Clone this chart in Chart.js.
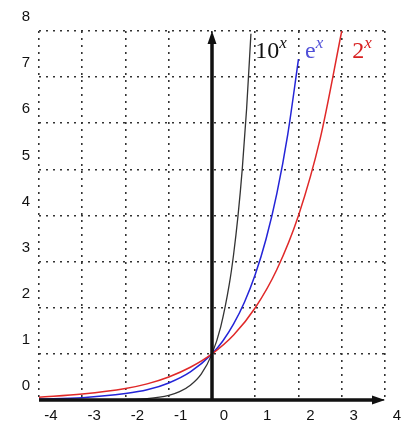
<!DOCTYPE html>
<html>
<head>
<meta charset="utf-8">
<script src="https://cdn.jsdelivr.net/npm/chart.js@4.4.0/dist/chart.umd.min.js"></script>
<style>
  html, body { margin: 0; padding: 0; background: #fff; }
  #wrap { width: 402px; height: 426px; }
</style>
</head>
<body>
<div id="wrap"><canvas id="chart"></canvas></div>
<script>
// values
const xTicks = [-4, -3, -2, -1, 0, 1, 2, 3, 4];
const yTicks = [0, 1, 2, 3, 4, 5, 6, 7, 8];

const pow10X = [-4, -3, -2, -1.5, -1, -0.75, -0.5, -0.25, 0, 0.2, 0.4, 0.5, 0.6, 0.7, 0.8, 0.9];
const pow10Y = [0.0001, 0.001, 0.01, 0.03, 0.1, 0.18, 0.32, 0.56, 1, 1.58, 2.51, 3.16, 3.98, 5.01, 6.31, 7.94];

const expX = [-4, -3, -2, -1.5, -1, -0.5, 0, 0.25, 0.5, 0.75, 1, 1.25, 1.5, 1.75, 2];
const expY = [0.02, 0.05, 0.14, 0.22, 0.37, 0.61, 1, 1.28, 1.65, 2.12, 2.72, 3.49, 4.48, 5.75, 7.39];

const pow2X = [-4, -3, -2, -1.5, -1, -0.5, 0, 0.5, 1, 1.5, 2, 2.5, 3];
const pow2Y = [0.06, 0.13, 0.25, 0.35, 0.5, 0.71, 1, 1.41, 2, 2.83, 4, 5.66, 8];

function toPoints(xs, ys) {
    return xs.map((x, i) => ({ x: x, y: ys[i] }));
}

// axes with arrows at x = 0 and y = 0, plus the curve names
const axesPlugin = {
    id: 'axesPlugin',
    afterDatasetsDraw(chart) {
        const ctx = chart.ctx;
        const sx = chart.scales.x, sy = chart.scales.y;
        const x0 = sx.getPixelForValue(0), y0 = sy.getPixelForValue(0);
        const xL = sx.getPixelForValue(-4), xR = sx.getPixelForValue(4);
        const yT = sy.getPixelForValue(8);
        ctx.save();
        ctx.strokeStyle = '#111';
        ctx.fillStyle = '#111';
        ctx.lineWidth = 3.5;
        ctx.beginPath();
        ctx.moveTo(xL, y0);
        ctx.lineTo(xR - 8, y0);
        ctx.moveTo(x0, y0);
        ctx.lineTo(x0, yT + 8);
        ctx.stroke();
        // arrow heads
        ctx.beginPath();
        ctx.moveTo(xR, y0);
        ctx.lineTo(xR - 13, y0 - 4.5);
        ctx.lineTo(xR - 13, y0 + 4.5);
        ctx.closePath();
        ctx.fill();
        ctx.beginPath();
        ctx.moveTo(x0, yT);
        ctx.lineTo(x0 - 4.5, yT + 13);
        ctx.lineTo(x0 + 4.5, yT + 13);
        ctx.closePath();
        ctx.fill();

        // curve names
        const base = sy.getPixelForValue(7.42);
        const sup = base - 10;
        ctx.textBaseline = 'alphabetic';
        ctx.textAlign = 'left';
        const big = '24px "Liberation Serif", "DejaVu Serif", serif';
        const small = 'italic 17px "Liberation Serif", "DejaVu Serif", serif';
        const names = [
            { base: '10', at: 1.0, color: '#111' },
            { base: 'e', at: 2.15, color: '#5050d8' },
            { base: '2', at: 3.24, color: '#d82020' }
        ];
        names.forEach(n => {
            const px = sx.getPixelForValue(n.at);
            ctx.fillStyle = n.color;
            ctx.font = big;
            ctx.fillText(n.base, px, base);
            const w = ctx.measureText(n.base).width;
            ctx.font = small;
            ctx.fillText('x', px + w, sup);
        });
        ctx.restore();
    }
};

const ctx = document.getElementById('chart').getContext('2d');
new Chart(ctx, {
    type: 'scatter',
    data: {
        datasets: [
            {
                label: '2^x',
                data: toPoints(pow2X, pow2Y),
                showLine: true,
                borderColor: '#e02828',
                borderWidth: 1.5,
                pointRadius: 0,
                cubicInterpolationMode: 'monotone'
            },
            {
                label: 'e^x',
                data: toPoints(expX, expY),
                showLine: true,
                borderColor: '#2424d8',
                borderWidth: 1.5,
                pointRadius: 0,
                cubicInterpolationMode: 'monotone'
            },
            {
                label: '10^x',
                data: toPoints(pow10X, pow10Y),
                showLine: true,
                borderColor: '#333',
                borderWidth: 1.3,
                pointRadius: 0,
                cubicInterpolationMode: 'monotone'
            }
        ]
    },
    options: {
        responsive: true,
        maintainAspectRatio: false,
        animation: false,
        layout: { padding: { left: 0, right: 17, top: 31, bottom: 0 } },
        plugins: {
            legend: { display: false },
            tooltip: { enabled: false }
        },
        scales: {
            x: {
                type: 'linear',
                min: -4,
                max: 4,
                afterBuildTicks: scale => { scale.ticks = xTicks.map(v => ({ value: v })); },
                afterFit: scale => { scale.height = 26; },
                grid: { color: '#333', lineWidth: 1.6, drawTicks: false },
                border: { display: false, dash: [2, 5] },
                ticks: {
                    labelOffset: 12,
                    padding: 7,
                    color: '#111',
                    maxRotation: 0,
                    font: { family: '"Liberation Sans", Arial, sans-serif', size: 15 }
                }
            },
            y: {
                type: 'linear',
                min: 0,
                max: 8,
                afterBuildTicks: scale => { scale.ticks = yTicks.map(v => ({ value: v })); },
                afterFit: scale => { scale.width = 39; },
                grid: { color: '#333', lineWidth: 1.6, drawTicks: false },
                border: { display: false, dash: [2, 5] },
                ticks: {
                    labelOffset: -14,
                    padding: 9,
                    color: '#111',
                    font: { family: '"Liberation Sans", Arial, sans-serif', size: 15 }
                }
            }
        }
    },
    plugins: [axesPlugin]
});
</script>
</body>
</html>
